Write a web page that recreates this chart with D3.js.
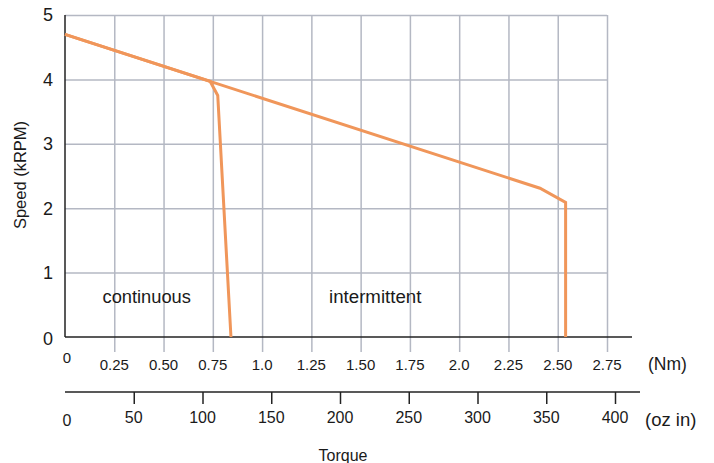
<!DOCTYPE html>
<html>
<head>
<meta charset="utf-8">
<script src="https://cdn.jsdelivr.net/npm/d3@7"></script>
<style>
  body { margin: 0; background: #fff; }
  svg text { font-family: "Liberation Sans", Arial, sans-serif; fill: #1a1a1a; }
</style>
</head>
<body>
<svg id="chart" width="714" height="463"></svg>
<script>
// Data
const speedTicks = [0, 1, 2, 3, 4, 5];
const nmTicks = [0, 0.25, 0.5, 0.75, 1.0, 1.25, 1.5, 1.75, 2.0, 2.25, 2.5, 2.75];
const nmLabels = ["0", "0.25", "0.50", "0.75", "1.0", "1.25", "1.50", "1.75", "2.0", "2.25", "2.50", "2.75"];
const ozTicks = [0, 50, 100, 150, 200, 250, 300, 350, 400];

// torque (Nm), speed (kRPM)
const intermittentTorque = [0, 2.41, 2.54, 2.54];
const intermittentSpeed = [4.7, 2.31, 2.09, 0];
const continuousTorque = [0, 0.736, 0.775, 0.842];
const continuousSpeed = [4.7, 3.97, 3.75, 0];

const lineColor = "#f0965a";
const gridColor = "#b4b8c3";

const svg = d3.select("#chart");

// Scales
const x = d3.scaleLinear().domain([0, 2.75]).range([65, 607]);
const y = d3.scaleLinear().domain([0, 5]).range([337, 15]);
const oz = d3.scaleLinear().domain([0, 400]).range([65, 615]);

// Grid - horizontal
svg.append("g")
  .attr("transform", `translate(${x(0)},0)`)
  .call(d3.axisLeft(y).tickValues(speedTicks.slice(1)).tickSize(-(x(2.75) - x(0))).tickFormat(""))
  .call(g => g.select(".domain").remove())
  .call(g => g.selectAll("line").attr("stroke", gridColor).attr("stroke-width", 1.5));

// Grid - vertical (continues below axis as tick)
svg.append("g")
  .attr("transform", `translate(0,${y(0) + 15})`)
  .call(d3.axisBottom(x).tickValues(nmTicks.slice(1)).tickSize(-(y(0) + 15 - y(5))).tickFormat(""))
  .call(g => g.select(".domain").remove())
  .call(g => g.selectAll("line").attr("stroke", gridColor).attr("stroke-width", 1.5));

// Axis lines
svg.append("line")
  .attr("x1", x(0)).attr("x2", x(0))
  .attr("y1", y(5)).attr("y2", y(0))
  .attr("stroke", "#222").attr("stroke-width", 1.5);
svg.append("line")
  .attr("x1", x(0)).attr("x2", x(2.75) + 25)
  .attr("y1", y(0)).attr("y2", y(0))
  .attr("stroke", "#222").attr("stroke-width", 1.5);

// Y tick labels
svg.selectAll("text.ytick")
  .data(speedTicks)
  .join("text")
  .attr("class", "ytick")
  .attr("x", 53)
  .attr("y", d => y(d))
  .attr("dy", d => d === 0 ? "0.45em" : "0.36em")
  .attr("text-anchor", "end")
  .style("font-size", "18px")
  .text(d => d);

// Nm tick labels
svg.selectAll("text.nmtick")
  .data(nmTicks)
  .join("text")
  .attr("class", "nmtick")
  .attr("x", d => d === 0 ? x(d) + 2 : x(d))
  .attr("y", d => d === 0 ? 363 : 370)
  .attr("text-anchor", "middle")
  .style("font-size", "15px")
  .text((d, i) => nmLabels[i]);

svg.append("text")
  .attr("x", 648).attr("y", 370)
  .style("font-size", "17.5px")
  .text("(Nm)");

// oz in axis
const ozAxis = svg.append("g")
  .attr("transform", "translate(0,392)")
  .call(d3.axisBottom(oz).tickValues(ozTicks.slice(1)).tickSize(12).tickFormat(""));
ozAxis.select(".domain").remove();
ozAxis.selectAll("line").attr("stroke", "#222").attr("stroke-width", 1.5);
svg.append("line")
  .attr("x1", oz(0)).attr("x2", oz(400) + 25)
  .attr("y1", 392).attr("y2", 392)
  .attr("stroke", "#222").attr("stroke-width", 1.5);

svg.selectAll("text.oztick")
  .data(ozTicks)
  .join("text")
  .attr("class", "oztick")
  .attr("x", d => d === 0 ? oz(d) + 2 : oz(d))
  .attr("y", d => d === 0 ? 426 : 423)
  .attr("text-anchor", "middle")
  .style("font-size", "16px")
  .text(d => d);

svg.append("text")
  .attr("x", 645).attr("y", 426)
  .style("font-size", "18.5px")
  .text("(oz in)");

// Axis titles
svg.append("text")
  .attr("x", 343).attr("y", 461)
  .attr("text-anchor", "middle")
  .style("font-size", "16px")
  .text("Torque");

svg.append("text")
  .attr("transform", "translate(26,175) rotate(-90)")
  .attr("text-anchor", "middle")
  .style("font-size", "16.5px")
  .text("Speed (kRPM)");

// Region labels
svg.append("text")
  .attr("x", 102.5).attr("y", 303)
  .style("font-size", "18.3px")
  .text("continuous");
svg.append("text")
  .attr("x", 329).attr("y", 303)
  .style("font-size", "18.7px")
  .text("intermittent");

// Curves
const line = d3.line().x(d => x(d[0])).y(d => y(d[1]));
const curves = [
  d3.zip(intermittentTorque, intermittentSpeed),
  d3.zip(continuousTorque, continuousSpeed)
];
svg.selectAll("path.curve")
  .data(curves)
  .join("path")
  .attr("class", "curve")
  .attr("d", line)
  .attr("fill", "none")
  .attr("stroke", lineColor)
  .attr("stroke-width", 3)
  .attr("stroke-linejoin", "miter");
</script>
</body>
</html>
